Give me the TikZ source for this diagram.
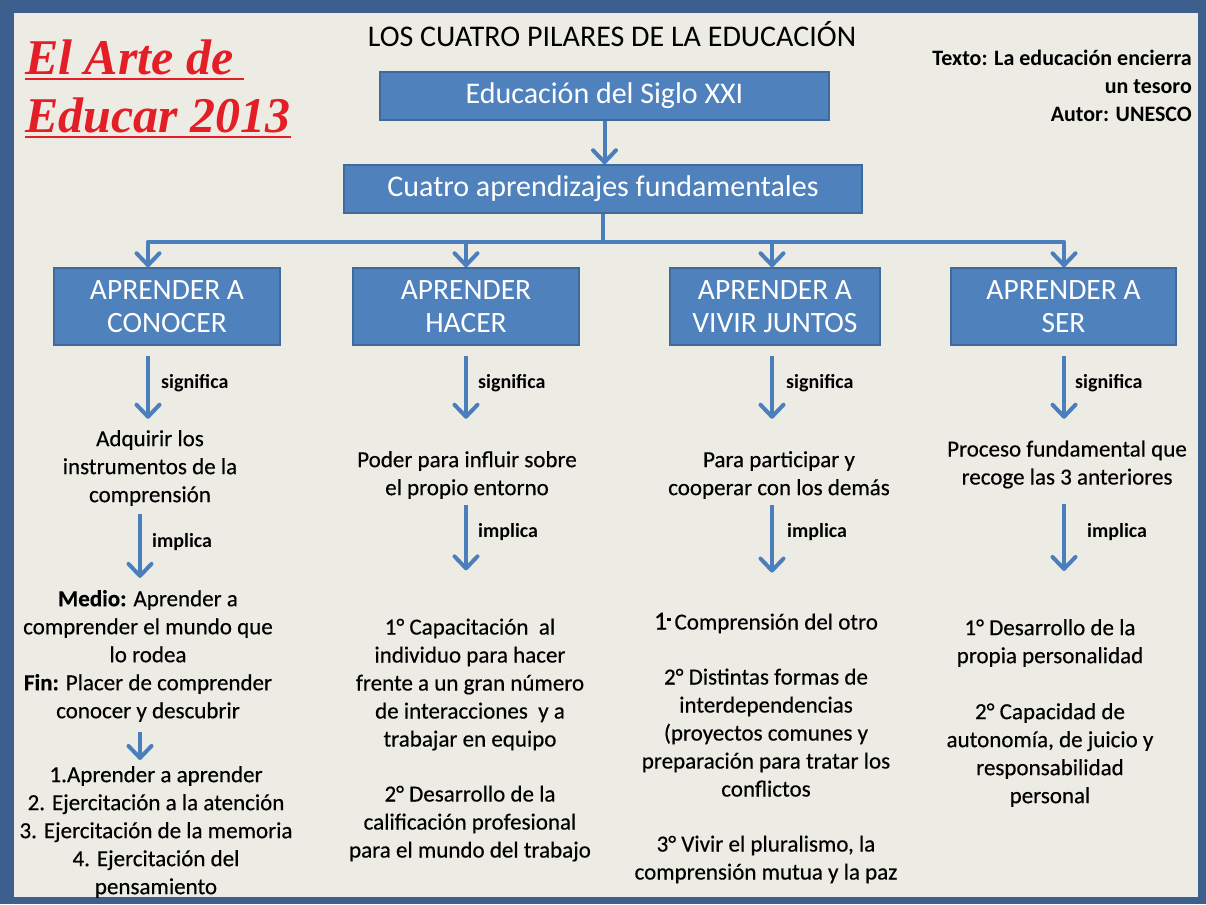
\documentclass[tikz,border=0pt]{standalone}
\usepackage{fontspec}
\setmainfont{Carlito}
\newfontfamily\bodyfont{Carlito}[FakeBold=0.4]
\newfontfamily\titlefont{Liberation Serif}
\usetikzlibrary{arrows.meta,calc}
\definecolor{frameblue}{HTML}{3D5F8E}
\definecolor{bgc}{HTML}{ECEBE4}
\definecolor{boxblue}{HTML}{4F81BD}
\definecolor{boxedge}{HTML}{3E6A9C}
\definecolor{arrowblue}{HTML}{4A7EBD}
\definecolor{titlered}{HTML}{E41E26}
\begin{document}
\begin{tikzpicture}[x=1pt,y=-1pt,
  bluebox/.style={draw=boxedge, line width=1.5pt, fill=boxblue, text=white, inner sep=0pt, align=center},
  toptext/.style={font=\fontsize{30}{34}\selectfont},
  piltext/.style={font=\fontsize{29.5}{33}\selectfont},
  arr/.style={draw=arrowblue, line width=4pt, line join=round, -{Straight Barb[length=12pt,width=23pt,round]}},
  lbl/.style={font=\fontsize{20}{22}\selectfont\bfseries, anchor=west, inner sep=0pt},
  body/.style={font=\bodyfont\fontsize{23}{28}\selectfont, align=center, inner sep=0pt},
  redtitle/.style={font=\titlefont\bfseries\itshape\fontsize{50}{58}\selectfont, text=titlered, inner sep=0pt, anchor=base west},
]
\useasboundingbox (0,0) rectangle (1206,904);
\fill[frameblue] (0,0) rectangle (1206,904);
\fill[bgc] (14,13) rectangle (1198,897);

% column coordinates
\coordinate (colA) at (148,0);
\coordinate (colAi) at (140,0);
\coordinate (colB) at (466,0);
\coordinate (colC) at (772,0);
\coordinate (colD) at (1064,0);

% red title
\node[redtitle] (rt1) at (25,75) {El Arte de};
\node[redtitle] (rt2) at (25,133) {Educar 2013};
\draw[titlered, line width=2pt] ([yshift=-4pt]rt1.base west) -- ([xshift=10pt,yshift=-4pt]rt1.base east);
\draw[titlered, line width=2pt] ([yshift=-4pt]rt2.base west) -- ([yshift=-4pt]rt2.base east);

% heading
\node[font=\fontsize{30}{34}\selectfont, inner sep=0pt] (head) at (612,34) {LOS CUATRO PILARES DE LA EDUCACIÓN};

% top right
\node[font=\fontsize{22}{28}\selectfont\bfseries, align=right, anchor=east, inner sep=0pt] (src) at (1192,86) {Texto: La educación encierra\\un tesoro\\Autor: UNESCO};

% boxes
\node[bluebox, toptext, minimum width=449pt, minimum height=48pt] (b1) at (604.5,96) {Educación del Siglo XXI};
\node[bluebox, toptext, minimum width=518pt, minimum height=48pt] (b2) at (603,189) {Cuatro aprendizajes fundamentales};

\node[bluebox, piltext, minimum width=226pt, minimum height=77pt] (pA) at (167,306.5) {APRENDER A\\CONOCER};
\node[bluebox, piltext, minimum width=226pt, minimum height=77pt] (pB) at (466,306.5) {APRENDER\\HACER};
\node[bluebox, piltext, minimum width=210pt, minimum height=77pt] (pC) at (775,306.5) {APRENDER A\\VIVIR JUNTOS};
\node[bluebox, piltext, minimum width=225pt, minimum height=77pt] (pD) at (1063.5,306.5) {APRENDER A\\SER};

% column texts
\node[body] (tA1) at (150,468) {Adquirir los\\instrumentos de la\\comprensión};
\node[body] (tB1) at (467,475) {Poder para influir sobre\\el propio entorno};
\node[body] (tC1) at (779,475) {Para participar y\\cooperar con los demás};
\node[body] (tD1) at (1067,464.5) {Proceso fundamental que\\recoge las 3 anteriores};

\node[body] (tA2) at (148,656) {\textbf{Medio:} Aprender a\\comprender el mundo que\\lo rodea\\\textbf{Fin:} Placer de comprender\\conocer y descubrir};
\node[body] (tA3) at (156,832) {1.Aprender a aprender\\2. Ejercitación a la atención\\3. Ejercitación de la memoria\\4. Ejercitación del\\pensamiento};

\node[body] (tB2) at (470,740) {1° Capacitación\ \ al\\individuo para hacer\\frente a un gran número\\de interacciones\ \ y a\\trabajar\ en equipo\\[27pt]2° Desarrollo de la\\calificación profesional\\para el mundo\ del trabajo};
\node[body] (tC2) at (766,748) {{\fontsize{26}{28}\selectfont 1}\raisebox{9pt}{\rule{3.5pt}{3pt}}\,Comprensión del otro\\[27pt]2° Distintas formas de\\interdependencias\\(proyectos comunes y\\preparación para tratar los\\conflictos\\[27pt]3° Vivir el pluralismo, la\\comprensión mutua y la paz};
\node[body] (tD2) at (1050,713) {1° Desarrollo de la\\propia personalidad\\[28pt]2° Capacidad de\\autonomía, de juicio y\\responsabilidad\\personal};

% labels
\node[lbl] (lA1) at (161,383) {significa};
\node[lbl] (lB1) at (478,383) {significa};
\node[lbl] (lC1) at (786,383) {significa};
\node[lbl] (lD1) at (1075,383) {significa};
\node[lbl] (lA2) at (152,542) {implica};
\node[lbl] (lB2) at (478,532) {implica};
\node[lbl] (lC2) at (787,532) {implica};
\node[lbl] (lD2) at (1087,532) {implica};

% connectors top
\draw[arr] (b1.south) -- (b1.south |- b2.north);
\coordinate (hub) at ($(b2.south)+(0,28)$);
\draw[arr] (b2.south) -- (hub) -| (pA.north -| colA);
\draw[arr] (b2.south) -- (hub) -| (pB.north -| colB);
\draw[arr] (b2.south) -- (hub) -| (pC.north -| colC);
\draw[arr] (b2.south) -- (hub) -| (pD.north -| colD);

% significa arrows
\draw[arr] ([yshift=-10pt]pA.south -| colA) -- ([yshift=-73pt]pA.south -| colA);
\draw[arr] ([yshift=-10pt]pB.south -| colB) -- ([yshift=-73pt]pB.south -| colB);
\draw[arr] ([yshift=-10pt]pC.south -| colC) -- ([yshift=-73pt]pC.south -| colC);
\draw[arr] ([yshift=-10pt]pD.south -| colD) -- ([yshift=-73pt]pD.south -| colD);

% implica arrows
\draw[arr] ([yshift=-8pt]tA1.south -| colAi) -- ([yshift=12pt]tA2.north -| colAi);
\draw[arr] ([yshift=-6pt]tB1.south -| colB) -- ([yshift=48pt]tB2.north -| colB);
\draw[arr] ([yshift=-6pt]tC1.south -| colC) -- ([yshift=40pt]tC2.north -| colC);
\draw[arr] ([yshift=-15pt]tD1.south -| colD) -- ([yshift=48pt]tD2.north -| colD);
\draw[arr] ([yshift=-10pt]tA2.south -| colAi) -- ([yshift=6pt]tA3.north -| colAi);
\end{tikzpicture}
\end{document}
